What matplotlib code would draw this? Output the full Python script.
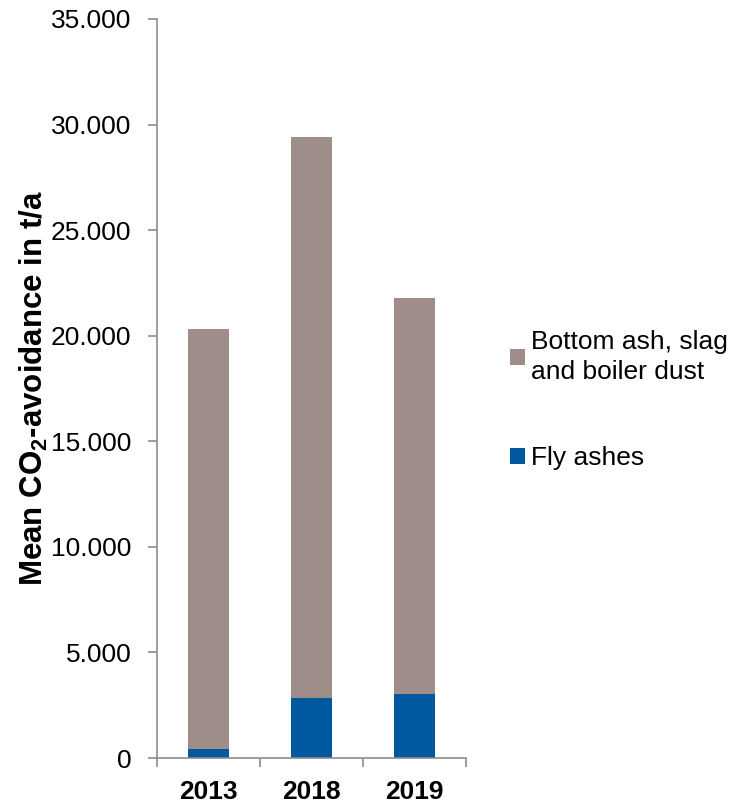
import matplotlib
matplotlib.use("Agg")
import matplotlib.pyplot as plt
from matplotlib.ticker import FuncFormatter

plt.rcParams["font.family"] = "Liberation Sans"
plt.rcParams["mathtext.fontset"] = "custom"
plt.rcParams["mathtext.rm"] = "Liberation Sans"
plt.rcParams["mathtext.bf"] = "Liberation Sans:bold"

# mean CO2 avoidance per year, t/a
years = ["2013", "2018", "2019"]
fly_ashes = [425, 2830, 3030]
bottom_ash = [19905, 26600, 18760]  # stacked on top of fly ashes

blue = "#00589F"
taupe = "#9E8D89"
axis_grey = "#8C8C8C"

fig = plt.figure(figsize=(7.36, 8.05), dpi=100)
ax = fig.add_axes([157 / 736, 1 - 758 / 805, (466 - 157) / 736, (758 - 19) / 805])

x = range(len(years))
ax.bar(x, fly_ashes, width=0.4, color=blue, label="Fly ashes")
ax.bar(x, bottom_ash, width=0.4, bottom=fly_ashes, color=taupe,
       label="Bottom ash, slag\nand boiler dust")

ax.set_xlim(-0.5, 2.5)
ax.set_ylim(0, 35000)
ax.set_yticks(range(0, 35001, 5000))
ax.yaxis.set_major_formatter(FuncFormatter(lambda v, p: f"{v:,.0f}".replace(",", ".")))

# boundary ticks between categories, labels centered on the bars
ax.set_xticks([-0.5, 0.5, 1.5, 2.5])
ax.set_xticklabels([])
ax.set_xticks(list(x), minor=True)
ax.set_xticklabels(years, minor=True, fontsize=19, fontweight="bold")
ax.tick_params(axis="x", which="minor", length=0, pad=16)
ax.tick_params(axis="x", which="major", length=6.5, width=1.2, color=axis_grey)
ax.tick_params(axis="y", length=6.5, width=1.2, color=axis_grey, labelsize=19, pad=12)

for side in ["top", "right"]:
    ax.spines[side].set_visible(False)
for side in ["left", "bottom"]:
    ax.spines[side].set_color(axis_grey)
    ax.spines[side].set_linewidth(1.2)

ax.set_ylabel(r"Mean CO$_\mathbf{2}$-avoidance in t/a", fontsize=22.5, fontweight="bold")
ax.yaxis.set_label_coords(-0.345, 0.5)

handles, labels = ax.get_legend_handles_labels()
fig.legend(handles[::-1], labels[::-1], loc="center left",
           bbox_to_anchor=(510 / 736, 1 - 400 / 805), frameon=False, fontsize=19,
           handlelength=0.55, handleheight=0.55, handletextpad=0.25,
           labelspacing=2.35, borderpad=0, borderaxespad=0)
for t in fig.legends[0].get_texts():
    t.set_linespacing(1.35)

fig.savefig("out.png", dpi=100)
